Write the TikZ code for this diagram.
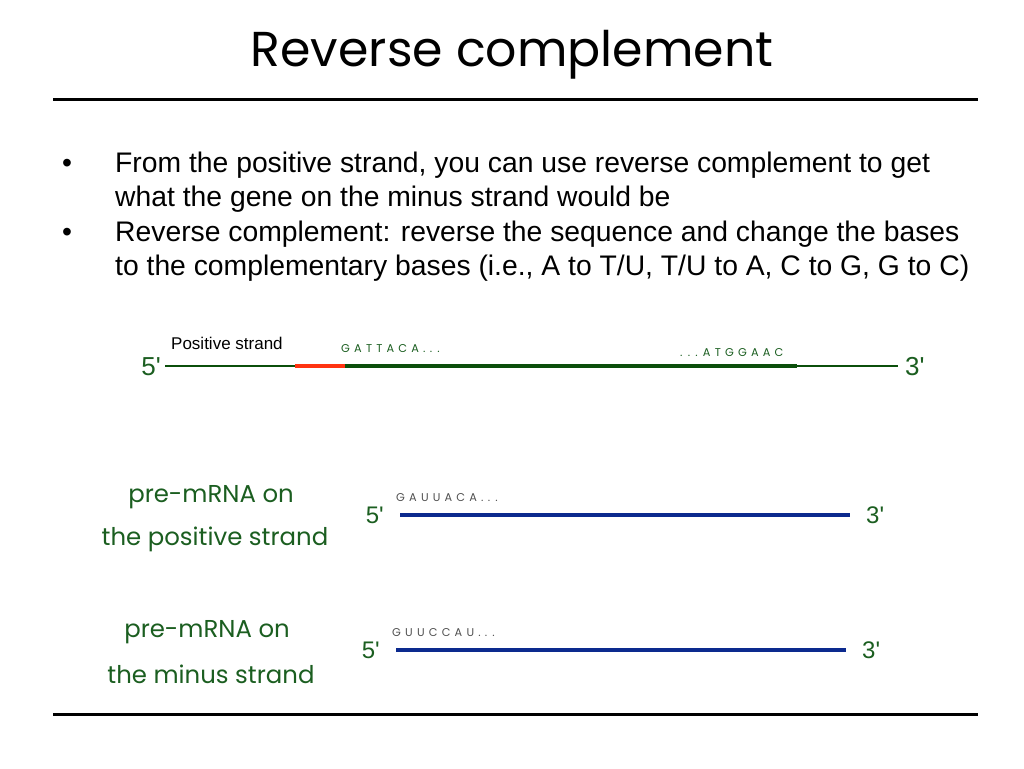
\documentclass[tikz,border=0pt]{standalone}
\usepackage{fontspec}
\setmainfont{Liberation Sans}
\newfontfamily\plainarial{Liberation Sans}
\newfontfamily\gothicfont{Poppins}
\newcommand\seqspacing{\spaceskip=4.2pt\relax}
\definecolor{dgreen}{HTML}{1B5E20}
\definecolor{lgreen}{HTML}{0B4F0B}
\definecolor{sred}{HTML}{FF3311}
\definecolor{sblue}{HTML}{0C2A8E}
\definecolor{seqgray}{HTML}{505050}
\tikzset{
  bodytext/.style={anchor=base west, inner sep=0pt, font=\fontsize{28.3}{34}\selectfont},
  bulletmark/.style={anchor=base, inner sep=0pt, font=\fontsize{28.3}{34}\selectfont},
  endlabel/.style={inner sep=0pt, text=dgreen, font=\plainarial\fontsize{26}{30}\selectfont},
  seqtext/.style={anchor=base west, inner sep=0pt, font=\gothicfont\fontsize{11.3}{13}\selectfont},
  rnalabel/.style={inner sep=0pt, text=dgreen, font=\gothicfont\fontsize{24.4}{30}\selectfont},
  thinstrand/.style={draw=lgreen, line width=1.5pt},
  thickstrand/.style={line width=4.5pt},
  rnastrand/.style={draw=sblue, line width=4pt},
  rule/.style={line width=3pt}
}
\begin{document}
\begin{tikzpicture}[x=1pt,y=-1pt]
\useasboundingbox (0,0) rectangle (1024,768);

% title and rules
\node[inner sep=0pt, font=\gothicfont\fontsize{49}{58}\selectfont] (title) at (512,55) {Reverse complement};
\coordinate (r1a) at (53,99); \coordinate (r1b) at (978,99);
\coordinate (r2a) at (53,714); \coordinate (r2b) at (978,714);
\draw[rule] (r1a) -- (r1b);
\draw[rule] (r2a) -- (r2b);

% bullets
\node[bulletmark] (b1) at (67,172) {\textbullet};
\node[bodytext] (t1) at (115,172) {From the positive strand, you can use reverse complement to get};
\node[bodytext] (t2) at (115,206) {what the gene on the minus strand would be};
\node[bulletmark] (b2) at (67,241) {\textbullet};
\node[bodytext] (t3) at (115,241) {Reverse complement: reverse the sequence and change the bases};
\node[bodytext] (t4) at (115,275) {to the complementary bases (i.e., A to T/U, T/U to A, C to G, G to C)};

% positive strand
\coordinate (p0) at (165,366);
\coordinate (p1) at (295,366);
\coordinate (p2) at (345,366);
\coordinate (p3) at (797,366);
\coordinate (p4) at (898,366);
\draw[thinstrand] (p0) -- (p4);
\draw[thickstrand, draw=sred] (p1) -- (p2);
\draw[thickstrand, draw=lgreen] (p2) -- (p3);
\node[endlabel, anchor=east] (p5) at (161,367) {5'};
\node[endlabel, anchor=west] (p3l) at (905,367) {3'};
\node[anchor=base west, inner sep=0pt, font=\fontsize{17}{19}\selectfont] (plabel) at (171,349) {Positive strand};
\node[seqtext, text=dgreen] (s1) at (341,352) {\seqspacing G A T T A C A . . .};
\node[seqtext, text=dgreen] (s2) at (680,356) {\seqspacing . . . A T G G A A C};

% pre-mRNA positive
\node[rnalabel] (l1a) at (211,497) {pre-mRNA on};
\node[rnalabel] (l1b) at (215,539) {the positive strand};
\coordinate (m1a) at (400,515);
\coordinate (m1b) at (850,515);
\draw[rnastrand] (m1a) -- (m1b);
\node[endlabel, anchor=east, font=\plainarial\fontsize{24}{28}\selectfont] (m5) at (384,515) {5'};
\node[endlabel, anchor=west, font=\plainarial\fontsize{24}{28}\selectfont] (m3) at (866,515) {3'};
\node[seqtext, text=seqgray] (s3) at (396,501) {\seqspacing G A U U A C A . . .};

% pre-mRNA minus
\node[rnalabel] (l2a) at (207,632) {pre-mRNA on};
\node[rnalabel] (l2b) at (211,674) {the minus strand};
\coordinate (n1a) at (396,650);
\coordinate (n1b) at (846,650);
\draw[rnastrand] (n1a) -- (n1b);
\node[endlabel, anchor=east, font=\plainarial\fontsize{24}{28}\selectfont] (n5) at (380,650) {5'};
\node[endlabel, anchor=west, font=\plainarial\fontsize{24}{28}\selectfont] (n3) at (862,650) {3'};
\node[seqtext, text=seqgray] (s4) at (392,636) {\seqspacing G U U C C A U . . .};
\end{tikzpicture}
\end{document}
